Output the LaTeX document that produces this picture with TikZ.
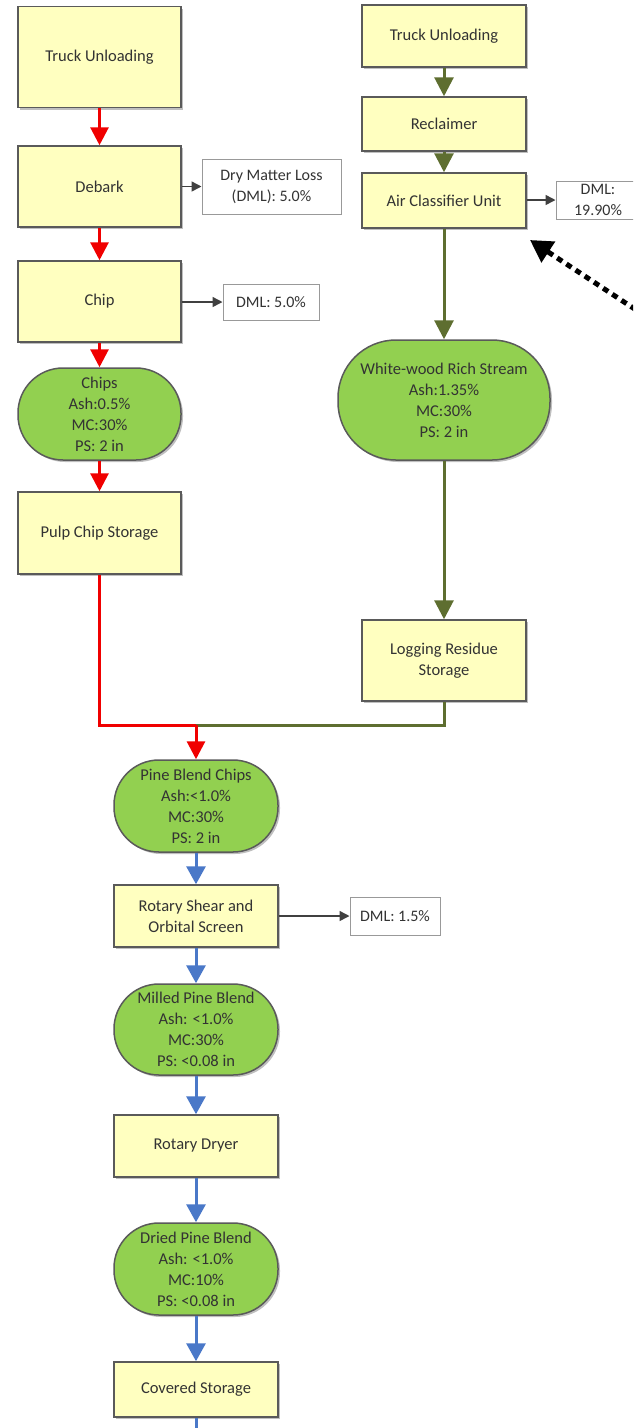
\documentclass[tikz,border=0pt]{standalone}
\usepackage{fontspec}
\setmainfont{Carlito}
\usetikzlibrary{arrows.meta,shadows}
\definecolor{boxyellow}{HTML}{FFFFC0}
\definecolor{stagegreen}{HTML}{92D050}
\definecolor{edgegray}{HTML}{5A5A5A}
\definecolor{flowred}{HTML}{F00000}
\definecolor{flowolive}{HTML}{5E6E30}
\definecolor{flowblue}{HTML}{4A78C8}
\definecolor{txtgray}{HTML}{333333}

\begin{document}
\begin{tikzpicture}[x=1pt,y=-1pt,
  base/.style={draw=edgegray, line width=1.5pt, text=txtgray,
    font=\fontsize{16.5}{21}\selectfont, align=center, inner sep=2pt,
    drop shadow={shadow xshift=2pt, shadow yshift=-2pt, fill=black, opacity=0.25}},
  proc/.style={base, rectangle, fill=boxyellow},
  stream/.style={base, rectangle, fill=stagegreen},
  loss/.style={rectangle, draw=gray!80, line width=1pt, fill=white, text=txtgray,
    font=\fontsize{16}{21}\selectfont, align=center, inner sep=2pt},
  redflow/.style={draw=flowred, line width=3pt, -{Triangle[width=18pt,length=18pt]}},
  oliveflow/.style={draw=flowolive, line width=3pt, -{Triangle[width=19pt,length=19pt]}},
  blueflow/.style={draw=flowblue, line width=3pt, -{Triangle[width=19pt,length=18pt]}},
  lossflow/.style={draw=black!75, line width=1.5pt, -{Triangle[width=10pt,length=10pt]}},
  pointer/.style={draw=black, line width=5pt, dash pattern=on 6pt off 5pt,
    -{Triangle[width=24pt,length=22pt]}}
]
\useasboundingbox (0,0) rectangle (633,1428);
\fill[white] (0,0) rectangle (633,1428);
\clip (0,0) rectangle (633,1428);

% pulpwood chip line
\node[proc, minimum width=163pt, minimum height=101pt] (truckL) at (99.5,57) {Truck Unloading};
\node[proc, minimum width=163pt, minimum height=81pt] (debark) at (99.5,186.5) {Debark};
\node[proc, minimum width=163pt, minimum height=81pt] (chip) at (99.5,301.5) {Chip};
\node[stream, rounded corners=45pt, minimum width=163pt, minimum height=92pt] (chips) at (99.5,414)
  {Chips\\Ash:0.5\%\\MC:30\%\\PS: 2 in};
\node[proc, minimum width=163pt, minimum height=82pt] (pulp) at (99.5,533) {Pulp Chip Storage};
\node[loss, minimum width=139pt, minimum height=55pt] (dml1) at (271.5,186.5) {Dry Matter Loss\\(DML): 5.0\%};
\node[loss, minimum width=96pt, minimum height=36pt] (dml2) at (271,302) {DML: 5.0\%};

% logging residue line
\node[proc, minimum width=164pt, minimum height=62pt] (truckR) at (444,36) {Truck Unloading};
\node[proc, minimum width=164pt, minimum height=54pt] (reclaim) at (444,124) {Reclaimer};
\node[proc, minimum width=164pt, minimum height=55pt] (acu) at (444,200.5) {Air Classifier Unit};
\node[loss, minimum width=84pt, minimum height=38pt] (dml3) at (598,200) {DML:\\19.90\%};
\node[stream, rounded corners=58pt, minimum width=212pt, minimum height=120pt] (white) at (444,400)
  {White-wood Rich Stream\\Ash:1.35\%\\MC:30\%\\PS: 2 in};
\node[proc, minimum width=164pt, minimum height=81pt] (lrs) at (444,660.5) {Logging Residue\\Storage};

% blended line
\node[stream, rounded corners=45pt, minimum width=164pt, minimum height=92pt] (pbc) at (196,806)
  {Pine Blend Chips\\Ash:<1.0\%\\MC:30\%\\PS: 2 in};
\node[proc, minimum width=164pt, minimum height=62pt] (shear) at (196,916) {Rotary Shear and\\Orbital Screen};
\node[loss, minimum width=90pt, minimum height=38pt] (dml4) at (395,916) {DML: 1.5\%};
\node[stream, rounded corners=45pt, minimum width=164pt, minimum height=91pt] (mpb) at (196,1029.5)
  {Milled Pine Blend\\Ash: <1.0\%\\MC:30\%\\PS: <0.08 in};
\node[proc, minimum width=164pt, minimum height=62pt] (dryer) at (196,1146) {Rotary Dryer};
\node[stream, rounded corners=45pt, minimum width=164pt, minimum height=92pt] (dpb) at (196,1269)
  {Dried Pine Blend\\Ash: <1.0\%\\MC:10\%\\PS: <0.08 in};
\node[proc, minimum width=164pt, minimum height=55pt] (covered) at (196,1389.5) {Covered Storage};

\coordinate (merge) at (196,725);
\coordinate (outlet) at (196,1470);
\coordinate (pointtail) at (700,352);
\coordinate (pointtip) at (530,240);

% flows
\draw[redflow] (truckL) -- (debark);
\draw[redflow] (debark) -- (chip);
\draw[redflow] (chip) -- (chips);
\draw[redflow] (chips) -- (pulp);
\draw[lossflow] (debark) -- (dml1);
\draw[lossflow] (chip.east |- dml2) -- (dml2);

\draw[oliveflow] (truckR) -- (reclaim);
\draw[oliveflow] (reclaim) -- (acu);
\draw[oliveflow] (acu) -- (white);
\draw[oliveflow] (white) -- (lrs);
\draw[lossflow] (acu.east |- dml3) -- (dml3);

\draw[draw=flowolive, line width=3pt] (lrs.south) |- (merge);
\draw[draw=flowred, line width=3pt] (pulp.south) |- (merge);
\draw[redflow] (merge) -- (pbc);

\draw[blueflow] (pbc) -- (shear);
\draw[lossflow] (shear) -- (dml4);
\draw[blueflow] (shear) -- (mpb);
\draw[blueflow] (mpb) -- (dryer);
\draw[blueflow] (dryer) -- (dpb);
\draw[blueflow] (dpb) -- (covered);
\draw[blueflow] (covered) -- (outlet);

\draw[pointer] (pointtail) -- (pointtip);
\end{tikzpicture}
\end{document}
